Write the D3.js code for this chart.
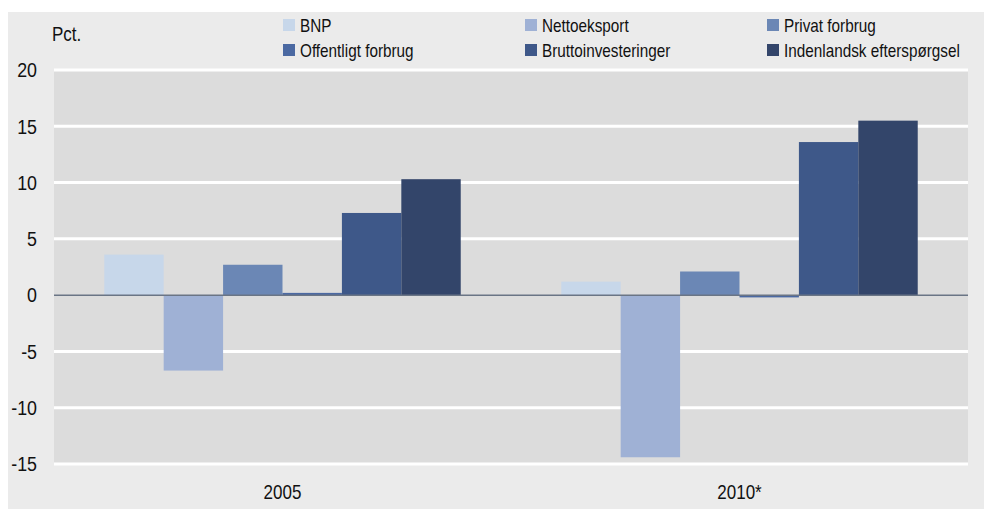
<!DOCTYPE html>
<html>
<head>
  <meta charset="utf-8">
  <title>BNP og efterspørgsel</title>
  <script src="https://d3js.org/d3.v7.min.js"></script>
  <style>
    body { margin: 0; background: #fff; }
    text { font-family: "Liberation Sans", Arial, sans-serif; fill: #111; }
  </style>
</head>
<body>
<div id="chart"></div>
<script type="text/javascript">
  let w = 984;
  let h = 511;

  let years = ['2005', '2010*'];
  let series = ['BNP', 'Nettoeksport', 'Privat forbrug', 'Offentligt forbrug', 'Bruttoinvesteringer', 'Indenlandsk efterspørgsel'];
  let colors = ['#c7d7ea', '#9fb1d5', '#6b87b5', '#4b69a2', '#3e5889', '#33456a'];
  let values2005 = [3.6, -6.7, 2.7, 0.2, 7.3, 10.3];
  let values2010 = [1.2, -14.4, 2.1, -0.2, 13.6, 15.5];
  let yTicks = [20, 15, 10, 5, 0, -5, -10, -15];

  // smal skrift: Liberation Sans presset vandret
  let squeeze = 0.85;

  let data = years.map((yr, i) => ({
    year: yr,
    vals: series.map((s, j) => ({ key: s, value: [values2005, values2010][i][j], color: colors[j] }))
  }));

  let plot = { left: 54, right: 968, top: 70, bottom: 464 };

  let svg = d3.select('#chart')
              .append('svg')
              .attr('width', w)
              .attr('height', h);

  // baggrund
  svg.append('rect')
     .attr('x', 8).attr('y', 12)
     .attr('width', w - 8).attr('height', h - 14)
     .attr('fill', '#ebebeb');

  svg.append('rect')
     .attr('x', plot.left).attr('y', plot.top)
     .attr('width', plot.right - plot.left).attr('height', plot.bottom - plot.top)
     .attr('fill', '#dcdcdc');

  let yScale = d3.scaleLinear()
                .domain([-15, 20])
                .range([plot.bottom, plot.top]);

  let x0 = d3.scaleBand()
             .domain(years)
             .range([plot.left, plot.right]);

  let x1 = d3.scaleBand()
             .domain(series)
             .range([x0.bandwidth() * 0.11, x0.bandwidth() * 0.89]);

  // gitterlinjer
  svg.selectAll('.grid')
     .data(yTicks.filter(d => d !== 0))
     .enter()
     .append('line')
     .attr('x1', plot.left).attr('x2', plot.right)
     .attr('y1', d => yScale(d)).attr('y2', d => yScale(d))
     .attr('stroke', '#fff')
     .attr('stroke-width', 3);

  // søjler
  let groups = svg.selectAll('.grp')
     .data(data)
     .enter()
     .append('g')
     .attr('transform', d => `translate(${x0(d.year)},0)`);

  groups.selectAll('rect')
     .data(d => d.vals)
     .enter()
     .append('rect')
     .attr('x', d => x1(d.key))
     .attr('width', x1.bandwidth())
     .attr('y', d => yScale(Math.max(0, d.value)))
     .attr('height', d => Math.abs(yScale(d.value) - yScale(0)))
     .attr('fill', d => d.color);

  // nul-linje
  svg.append('line')
     .attr('x1', plot.left).attr('x2', plot.right)
     .attr('y1', yScale(0)).attr('y2', yScale(0))
     .attr('stroke', '#6a7585')
     .attr('stroke-width', 1.5);

  // y-akse
  let yAxis = d3.axisLeft(yScale)
                .tickValues(yTicks)
                .tickFormat(d => String(d))
                .tickSize(0)
                .tickPadding(0);

  let ya = svg.append('g')
     .attr('transform', 'translate(37,0)')
     .call(yAxis);
  ya.select('.domain').remove();
  ya.selectAll('text')
    .attr('font-size', '21px')
    .attr('fill', '#111')
    .attr('font-family', null)
    .attr('x', 0)
    .attr('transform', `scale(${squeeze},1)`);

  // x-akse
  let xAxis = d3.axisBottom(x0).tickSize(0).tickPadding(0);
  let xa = svg.append('g')
     .attr('transform', 'translate(0,485)')
     .call(xAxis);
  xa.select('.domain').remove();
  xa.selectAll('text')
    .attr('font-size', '20px')
    .attr('fill', '#111')
    .attr('font-family', null)
    .attr('transform', `scale(${squeeze},1)`);

  svg.append('text')
     .attr('transform', `translate(52,41) scale(${squeeze},1)`)
     .attr('font-size', '20px')
     .text('Pct.');

  // forklaring
  let legendCols = [283, 525, 767];
  let legend = svg.selectAll('.leg')
     .data(series)
     .enter()
     .append('g')
     .attr('transform', (d, i) => `translate(${legendCols[i % 3]},${i < 3 ? 19 : 44})`);

  legend.append('rect')
     .attr('width', 12).attr('height', 12)
     .attr('fill', (d, i) => colors[i]);

  legend.append('text')
     .attr('transform', `translate(17,12.5) scale(${squeeze},1)`)
     .attr('font-size', '18px')
     .text(d => d);
</script>
</body>
</html>
